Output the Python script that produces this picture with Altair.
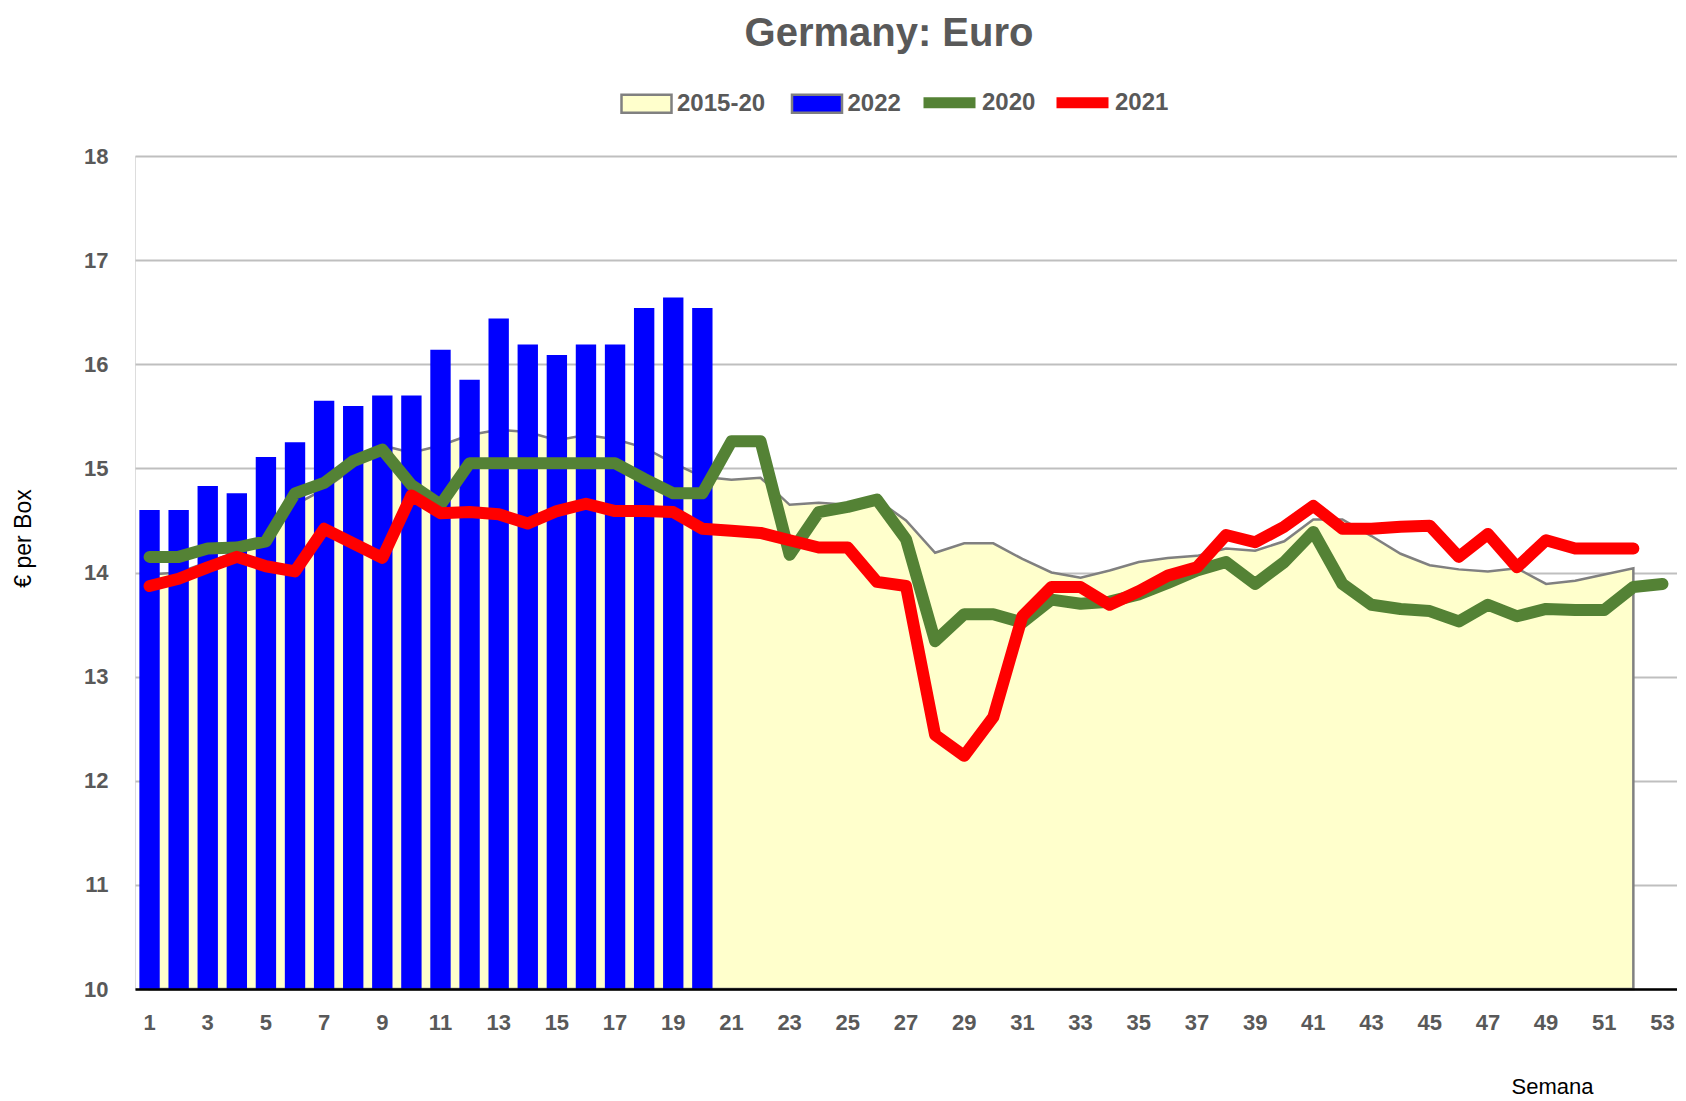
import altair as alt
import pandas as pd

# ---------------- data ----------------
weeks = list(range(1, 54))

avg_2015_20 = [13.98, 14.00, 14.10, 14.20, 14.35, 14.65, 14.80, 15.00, 15.22, 15.15,
               15.22, 15.32, 15.37, 15.35, 15.27, 15.32, 15.28, 15.20, 15.05, 14.92,
               14.89, 14.91, 14.65, 14.67, 14.65, 14.70, 14.50, 14.19, 14.28, 14.28,
               14.13, 14.00, 13.95, 14.02, 14.10, 14.14, 14.16, 14.23, 14.21, 14.30,
               14.51, 14.51, 14.35, 14.18, 14.07, 14.03, 14.01, 14.04, 13.89, 13.92,
               13.98, 14.04]

y2020 = [14.15, 14.15, 14.23, 14.24, 14.30, 14.76, 14.86, 15.07, 15.18, 14.84,
         14.65, 15.05, 15.05, 15.05, 15.05, 15.05, 15.05, 14.90, 14.76, 14.76,
         15.26, 15.26, 14.17, 14.58, 14.63, 14.70, 14.32, 13.34, 13.60, 13.60,
         13.52, 13.74, 13.70, 13.72, 13.79, 13.90, 14.02, 14.10, 13.89, 14.10,
         14.39, 13.89, 13.69, 13.65, 13.63, 13.53, 13.69, 13.58, 13.65, 13.64,
         13.64, 13.86, 13.89]

y2021 = [13.87, 13.94, 14.05, 14.15, 14.06, 14.01, 14.42, 14.28, 14.14, 14.74,
         14.57, 14.58, 14.56, 14.47, 14.59, 14.66, 14.59, 14.59, 14.58, 14.42,
         14.40, 14.38, 14.31, 14.24, 14.24, 13.91, 13.87, 12.44, 12.24, 12.61,
         13.58, 13.86, 13.86, 13.69, 13.82, 13.97, 14.05, 14.36, 14.29, 14.44,
         14.64, 14.42, 14.42, 14.44, 14.45, 14.15, 14.37, 14.05, 14.31, 14.23,
         14.23, 14.23]

y2022 = [14.60, 14.60, 14.83, 14.76, 15.11, 15.25, 15.65, 15.60, 15.70, 15.70,
         16.14, 15.85, 16.44, 16.19, 16.09, 16.19, 16.19, 16.54, 16.64, 16.54]

fill_names = ["2015-20", "2022"]
fill_colors = ["#FFFFCC", "#0000FF"]
line_names = ["2020", "2021"]
line_colors = ["#548235", "#FF0000"]
y_ticks = list(range(10, 19))
x_ticks = weeks[::2]

# ---------------- styling ----------------
FONT = "Liberation Sans, Arial, sans-serif"
GRAY_TXT = "#595959"
RECT_PATH = "M-1,-0.36H1V0.36H-1Z"

df_avg = pd.DataFrame({"week": weeks[:len(avg_2015_20)], "value": avg_2015_20, "series": fill_names[0]})
df_2022 = pd.DataFrame({"week": weeks[:len(y2022)], "value": y2022, "series": fill_names[1]})
df_2020 = pd.DataFrame({"week": weeks[:len(y2020)], "value": y2020, "series": line_names[0]})
df_2021 = pd.DataFrame({"week": weeks[:len(y2021)], "value": y2021, "series": line_names[1]})

x_enc = alt.X(
    "week:O",
    scale=alt.Scale(domain=weeks, paddingInner=0.3, paddingOuter=0.15),
    axis=alt.Axis(
        values=x_ticks, labelAngle=0, labelFont=FONT, labelFontSize=22,
        labelFontWeight="bold", labelColor=GRAY_TXT, labelPadding=23,
        ticks=False, grid=False, domainColor="black", domainWidth=2.5,
        title="Semana", titleFont=FONT, titleFontSize=22, titleFontWeight="normal",
        titleColor="black", titleX=1417, titleY=97, titleAlign="center",
        titleBaseline="middle", zindex=1,
    ),
)
y_enc = alt.Y(
    "value:Q",
    scale=alt.Scale(domain=[10, 18], zero=False, nice=False),
    axis=alt.Axis(
        values=y_ticks, labelFont=FONT, labelFontSize=22, labelFontWeight="bold",
        labelColor=GRAY_TXT, labelPadding=27, ticks=False, domain=False,
        grid=True, gridColor="#BFBFBF", gridWidth=2,
        title="€ per Box", titleFont=FONT, titleFontSize=23, titleFontWeight="normal",
        titleColor="black", titleX=-112, titleY=382, titleAlign="center",
        titleBaseline="middle", zindex=0,
    ),
)

fill_enc = alt.Fill(
    "series:N", scale=alt.Scale(domain=fill_names, range=fill_colors),
    legend=alt.Legend(
        title=None, orient="none", legendX=485, legendY=-79, direction="horizontal",
        symbolType=RECT_PATH, symbolSize=2500, symbolStrokeColor="#808080",
        symbolStrokeWidth=2.5, symbolOpacity=1,
        labelFont=FONT, labelFontSize=24, labelFontWeight="bold", labelColor=GRAY_TXT,
        labelOffset=4, columnPadding=20.5,
    ),
)
stroke_enc = alt.Stroke(
    "series:N", scale=alt.Scale(domain=line_names, range=line_colors),
    legend=alt.Legend(
        title=None, orient="none", legendX=783, legendY=-85, direction="horizontal",
        symbolType="stroke", symbolSize=2704, symbolStrokeWidth=11, symbolOpacity=1,
        labelFont=FONT, labelFontSize=24, labelFontWeight="bold", labelColor=GRAY_TXT,
        labelOffset=1, columnPadding=-2,
    ),
)

area = alt.Chart(df_avg).mark_area(stroke="#808080", strokeWidth=2.5, opacity=1).encode(
    x=x_enc, y=y_enc, y2=alt.datum(10), fill=fill_enc)
bars = alt.Chart(df_2022).mark_bar(opacity=1).encode(
    x=x_enc, y=y_enc, y2=alt.datum(10), fill=fill_enc)
line20 = alt.Chart(df_2020).mark_line(strokeWidth=12, strokeCap="round", strokeJoin="round").encode(
    x=x_enc, y=y_enc, stroke=stroke_enc)
line21 = alt.Chart(df_2021).mark_line(strokeWidth=12, strokeCap="round", strokeJoin="round").encode(
    x=x_enc, y=y_enc, stroke=stroke_enc)

chart = alt.layer(area, bars, line20, line21).properties(
    width=1542, height=833,
    title=alt.Title("Germany: Euro", font=FONT, fontSize=40, fontWeight="bold",
                    color=GRAY_TXT, anchor="middle", frame="group", dx=-17, offset=17),
    padding={"left": 4, "top": 6, "right": 0, "bottom": 0},
).configure_view(stroke=None).configure(background="white")

chart.save("out.html", embed_options={"renderer": "svg", "actions": False})
